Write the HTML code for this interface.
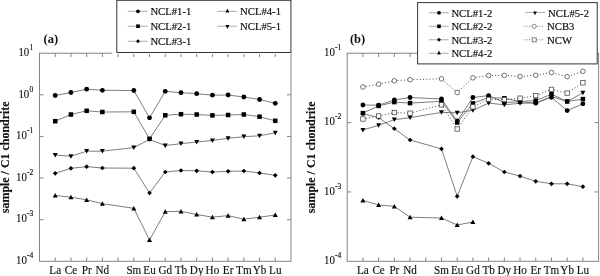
<!DOCTYPE html>
<html lang="en"><head><meta charset="utf-8"><title>REE patterns</title>
<style>
html,body{margin:0;padding:0;background:#fff;}
body{width:600px;height:276px;overflow:hidden;}
svg{display:block;}
text{font-family:"Liberation Serif","Times New Roman",serif;fill:#111;}
.xl{font-size:12px;text-anchor:middle;stroke:#111;stroke-width:0.15px;}
.yl{font-size:12px;text-anchor:end;stroke:#111;stroke-width:0.12px;}
.sup{font-size:7.2px;text-anchor:end;stroke:#111;stroke-width:0.15px;}
.lg{font-size:11px;stroke:#111;stroke-width:0.2px;}
.pl{font-size:13px;font-weight:bold;}
.yt{font-size:11.95px;font-weight:bold;text-anchor:middle;stroke:#111;stroke-width:0.15px;}
</style></head><body>
<svg width="600" height="276" viewBox="0 0 600 276">
<rect width="600" height="276" fill="#fff"/>
<g stroke="#858585" stroke-width="1" fill="none" shape-rendering="auto">
<rect x="39.50" y="53.20" width="251.50" height="208.10"/>
<path d="M55.22 53.20v3.8M55.22 261.30v-3.8M70.94 53.20v3.8M70.94 261.30v-3.8M86.66 53.20v3.8M86.66 261.30v-3.8M102.38 53.20v3.8M102.38 261.30v-3.8M118.09 53.20v3.8M118.09 261.30v-3.8M133.81 53.20v3.8M133.81 261.30v-3.8M149.53 53.20v3.8M149.53 261.30v-3.8M165.25 53.20v3.8M165.25 261.30v-3.8M180.97 53.20v3.8M180.97 261.30v-3.8M196.69 53.20v3.8M196.69 261.30v-3.8M212.41 53.20v3.8M212.41 261.30v-3.8M228.12 53.20v3.8M228.12 261.30v-3.8M243.84 53.20v3.8M243.84 261.30v-3.8M259.56 53.20v3.8M259.56 261.30v-3.8M275.28 53.20v3.8M275.28 261.30v-3.8M39.50 94.82h4M291.00 94.82h-4M39.50 136.44h4M291.00 136.44h-4M39.50 178.06h4M291.00 178.06h-4M39.50 219.68h4M291.00 219.68h-4"/>
</g>
<g stroke="#858585" stroke-width="1" fill="none" shape-rendering="auto">
<rect x="347.20" y="53.20" width="251.40" height="208.10"/>
<path d="M362.91 53.20v3.8M362.91 261.30v-3.8M378.62 53.20v3.8M378.62 261.30v-3.8M394.34 53.20v3.8M394.34 261.30v-3.8M410.05 53.20v3.8M410.05 261.30v-3.8M425.76 53.20v3.8M425.76 261.30v-3.8M441.48 53.20v3.8M441.48 261.30v-3.8M457.19 53.20v3.8M457.19 261.30v-3.8M472.90 53.20v3.8M472.90 261.30v-3.8M488.61 53.20v3.8M488.61 261.30v-3.8M504.33 53.20v3.8M504.33 261.30v-3.8M520.04 53.20v3.8M520.04 261.30v-3.8M535.75 53.20v3.8M535.75 261.30v-3.8M551.46 53.20v3.8M551.46 261.30v-3.8M567.17 53.20v3.8M567.17 261.30v-3.8M582.89 53.20v3.8M582.89 261.30v-3.8M347.20 122.57h4M598.60 122.57h-4M347.20 191.93h4M598.60 191.93h-4"/>
</g>
<path d="M55.22 155.00L70.94 156.30L86.66 151.20L102.38 151.20L133.81 147.60L149.53 139.50L165.25 145.50L180.97 143.70L196.69 142.00L212.41 140.50L228.12 138.30L243.84 136.70L259.56 135.80L275.28 132.80" fill="none" stroke="#6e6e6e" stroke-width="0.9"/>
<path d="M55.22 157.40l2.5 -4.5h-5.0z" fill="#000"/>
<path d="M70.94 158.70l2.5 -4.5h-5.0z" fill="#000"/>
<path d="M86.66 153.60l2.5 -4.5h-5.0z" fill="#000"/>
<path d="M102.38 153.60l2.5 -4.5h-5.0z" fill="#000"/>
<path d="M133.81 150.00l2.5 -4.5h-5.0z" fill="#000"/>
<path d="M149.53 141.90l2.5 -4.5h-5.0z" fill="#000"/>
<path d="M165.25 147.90l2.5 -4.5h-5.0z" fill="#000"/>
<path d="M180.97 146.10l2.5 -4.5h-5.0z" fill="#000"/>
<path d="M196.69 144.40l2.5 -4.5h-5.0z" fill="#000"/>
<path d="M212.41 142.90l2.5 -4.5h-5.0z" fill="#000"/>
<path d="M228.12 140.70l2.5 -4.5h-5.0z" fill="#000"/>
<path d="M243.84 139.10l2.5 -4.5h-5.0z" fill="#000"/>
<path d="M259.56 138.20l2.5 -4.5h-5.0z" fill="#000"/>
<path d="M275.28 135.20l2.5 -4.5h-5.0z" fill="#000"/>
<path d="M55.22 195.50L70.94 197.20L86.66 199.80L102.38 203.70L133.81 208.30L149.53 240.00L165.25 211.70L180.97 211.30L196.69 214.50L212.41 217.20L228.12 215.60L243.84 219.20L259.56 217.20L275.28 215.00" fill="none" stroke="#6e6e6e" stroke-width="0.9"/>
<path d="M55.22 193.10l2.5 4.5h-5.0z" fill="#000"/>
<path d="M70.94 194.80l2.5 4.5h-5.0z" fill="#000"/>
<path d="M86.66 197.40l2.5 4.5h-5.0z" fill="#000"/>
<path d="M102.38 201.30l2.5 4.5h-5.0z" fill="#000"/>
<path d="M133.81 205.90l2.5 4.5h-5.0z" fill="#000"/>
<path d="M149.53 237.60l2.5 4.5h-5.0z" fill="#000"/>
<path d="M165.25 209.30l2.5 4.5h-5.0z" fill="#000"/>
<path d="M180.97 208.90l2.5 4.5h-5.0z" fill="#000"/>
<path d="M196.69 212.10l2.5 4.5h-5.0z" fill="#000"/>
<path d="M212.41 214.80l2.5 4.5h-5.0z" fill="#000"/>
<path d="M228.12 213.20l2.5 4.5h-5.0z" fill="#000"/>
<path d="M243.84 216.80l2.5 4.5h-5.0z" fill="#000"/>
<path d="M259.56 214.80l2.5 4.5h-5.0z" fill="#000"/>
<path d="M275.28 212.60l2.5 4.5h-5.0z" fill="#000"/>
<path d="M55.22 173.30L70.94 168.30L86.66 166.70L102.38 168.00L133.81 168.20L149.53 193.00L165.25 172.00L180.97 170.50L196.69 170.80L212.41 172.00L228.12 171.30L243.84 171.00L259.56 173.00L275.28 175.30" fill="none" stroke="#6e6e6e" stroke-width="0.9"/>
<path d="M55.22 170.95l2.35 2.35l-2.35 2.35l-2.35 -2.35z" fill="#000"/>
<path d="M70.94 165.95l2.35 2.35l-2.35 2.35l-2.35 -2.35z" fill="#000"/>
<path d="M86.66 164.35l2.35 2.35l-2.35 2.35l-2.35 -2.35z" fill="#000"/>
<path d="M102.38 165.65l2.35 2.35l-2.35 2.35l-2.35 -2.35z" fill="#000"/>
<path d="M133.81 165.85l2.35 2.35l-2.35 2.35l-2.35 -2.35z" fill="#000"/>
<path d="M149.53 190.65l2.35 2.35l-2.35 2.35l-2.35 -2.35z" fill="#000"/>
<path d="M165.25 169.65l2.35 2.35l-2.35 2.35l-2.35 -2.35z" fill="#000"/>
<path d="M180.97 168.15l2.35 2.35l-2.35 2.35l-2.35 -2.35z" fill="#000"/>
<path d="M196.69 168.45l2.35 2.35l-2.35 2.35l-2.35 -2.35z" fill="#000"/>
<path d="M212.41 169.65l2.35 2.35l-2.35 2.35l-2.35 -2.35z" fill="#000"/>
<path d="M228.12 168.95l2.35 2.35l-2.35 2.35l-2.35 -2.35z" fill="#000"/>
<path d="M243.84 168.65l2.35 2.35l-2.35 2.35l-2.35 -2.35z" fill="#000"/>
<path d="M259.56 170.65l2.35 2.35l-2.35 2.35l-2.35 -2.35z" fill="#000"/>
<path d="M275.28 172.95l2.35 2.35l-2.35 2.35l-2.35 -2.35z" fill="#000"/>
<path d="M55.22 121.20L70.94 114.50L86.66 110.80L102.38 112.00L133.81 111.80L149.53 138.80L165.25 115.30L180.97 114.20L196.69 114.50L212.41 115.40L228.12 115.00L243.84 114.50L259.56 116.70L275.28 120.80" fill="none" stroke="#6e6e6e" stroke-width="0.9"/>
<rect x="52.97" y="118.95" width="4.5" height="4.5" fill="#000"/>
<rect x="68.69" y="112.25" width="4.5" height="4.5" fill="#000"/>
<rect x="84.41" y="108.55" width="4.5" height="4.5" fill="#000"/>
<rect x="100.12" y="109.75" width="4.5" height="4.5" fill="#000"/>
<rect x="131.56" y="109.55" width="4.5" height="4.5" fill="#000"/>
<rect x="147.28" y="136.55" width="4.5" height="4.5" fill="#000"/>
<rect x="163.00" y="113.05" width="4.5" height="4.5" fill="#000"/>
<rect x="178.72" y="111.95" width="4.5" height="4.5" fill="#000"/>
<rect x="194.44" y="112.25" width="4.5" height="4.5" fill="#000"/>
<rect x="210.16" y="113.15" width="4.5" height="4.5" fill="#000"/>
<rect x="225.88" y="112.75" width="4.5" height="4.5" fill="#000"/>
<rect x="241.59" y="112.25" width="4.5" height="4.5" fill="#000"/>
<rect x="257.31" y="114.45" width="4.5" height="4.5" fill="#000"/>
<rect x="273.03" y="118.55" width="4.5" height="4.5" fill="#000"/>
<path d="M55.22 95.50L70.94 92.50L86.66 89.20L102.38 90.30L133.81 90.50L149.53 117.80L165.25 91.30L180.97 92.70L196.69 93.70L212.41 95.20L228.12 95.00L243.84 97.00L259.56 99.50L275.28 103.30" fill="none" stroke="#6e6e6e" stroke-width="0.9"/>
<circle cx="55.22" cy="95.50" r="2.4" fill="#000"/>
<circle cx="70.94" cy="92.50" r="2.4" fill="#000"/>
<circle cx="86.66" cy="89.20" r="2.4" fill="#000"/>
<circle cx="102.38" cy="90.30" r="2.4" fill="#000"/>
<circle cx="133.81" cy="90.50" r="2.4" fill="#000"/>
<circle cx="149.53" cy="117.80" r="2.4" fill="#000"/>
<circle cx="165.25" cy="91.30" r="2.4" fill="#000"/>
<circle cx="180.97" cy="92.70" r="2.4" fill="#000"/>
<circle cx="196.69" cy="93.70" r="2.4" fill="#000"/>
<circle cx="212.41" cy="95.20" r="2.4" fill="#000"/>
<circle cx="228.12" cy="95.00" r="2.4" fill="#000"/>
<circle cx="243.84" cy="97.00" r="2.4" fill="#000"/>
<circle cx="259.56" cy="99.50" r="2.4" fill="#000"/>
<circle cx="275.28" cy="103.30" r="2.4" fill="#000"/>
<path d="M362.91 200.30L378.62 205.00L394.34 206.30L410.05 217.20L441.48 218.00L457.19 225.00L472.90 222.00" fill="none" stroke="#6e6e6e" stroke-width="0.9"/>
<path d="M362.91 197.90l2.5 4.5h-5.0z" fill="#000"/>
<path d="M378.62 202.60l2.5 4.5h-5.0z" fill="#000"/>
<path d="M394.34 203.90l2.5 4.5h-5.0z" fill="#000"/>
<path d="M410.05 214.80l2.5 4.5h-5.0z" fill="#000"/>
<path d="M441.48 215.60l2.5 4.5h-5.0z" fill="#000"/>
<path d="M457.19 222.60l2.5 4.5h-5.0z" fill="#000"/>
<path d="M472.90 219.60l2.5 4.5h-5.0z" fill="#000"/>
<path d="M362.91 113.60L378.62 117.60L394.34 128.70L410.05 140.00L441.48 148.90L457.19 196.30L472.90 156.70L488.61 163.30L504.33 172.00L520.04 176.10L535.75 181.30L551.46 183.80L567.17 183.80L582.89 186.70" fill="none" stroke="#6e6e6e" stroke-width="0.9"/>
<path d="M362.91 111.25l2.35 2.35l-2.35 2.35l-2.35 -2.35z" fill="#000"/>
<path d="M378.62 115.25l2.35 2.35l-2.35 2.35l-2.35 -2.35z" fill="#000"/>
<path d="M394.34 126.35l2.35 2.35l-2.35 2.35l-2.35 -2.35z" fill="#000"/>
<path d="M410.05 137.65l2.35 2.35l-2.35 2.35l-2.35 -2.35z" fill="#000"/>
<path d="M441.48 146.55l2.35 2.35l-2.35 2.35l-2.35 -2.35z" fill="#000"/>
<path d="M457.19 193.95l2.35 2.35l-2.35 2.35l-2.35 -2.35z" fill="#000"/>
<path d="M472.90 154.35l2.35 2.35l-2.35 2.35l-2.35 -2.35z" fill="#000"/>
<path d="M488.61 160.95l2.35 2.35l-2.35 2.35l-2.35 -2.35z" fill="#000"/>
<path d="M504.33 169.65l2.35 2.35l-2.35 2.35l-2.35 -2.35z" fill="#000"/>
<path d="M520.04 173.75l2.35 2.35l-2.35 2.35l-2.35 -2.35z" fill="#000"/>
<path d="M535.75 178.95l2.35 2.35l-2.35 2.35l-2.35 -2.35z" fill="#000"/>
<path d="M551.46 181.45l2.35 2.35l-2.35 2.35l-2.35 -2.35z" fill="#000"/>
<path d="M567.17 181.45l2.35 2.35l-2.35 2.35l-2.35 -2.35z" fill="#000"/>
<path d="M582.89 184.35l2.35 2.35l-2.35 2.35l-2.35 -2.35z" fill="#000"/>
<path d="M362.91 130.00L378.62 125.30L394.34 119.70L410.05 117.60L441.48 112.40L457.19 112.75L472.90 110.30L488.61 103.10L504.33 104.80L520.04 103.30L535.75 103.00L551.46 96.50L567.17 101.50L582.89 92.90" fill="none" stroke="#6e6e6e" stroke-width="0.9"/>
<path d="M362.91 132.40l2.5 -4.5h-5.0z" fill="#000"/>
<path d="M378.62 127.70l2.5 -4.5h-5.0z" fill="#000"/>
<path d="M394.34 122.10l2.5 -4.5h-5.0z" fill="#000"/>
<path d="M410.05 120.00l2.5 -4.5h-5.0z" fill="#000"/>
<path d="M441.48 114.80l2.5 -4.5h-5.0z" fill="#000"/>
<path d="M457.19 115.15l2.5 -4.5h-5.0z" fill="#000"/>
<path d="M472.90 112.70l2.5 -4.5h-5.0z" fill="#000"/>
<path d="M488.61 105.50l2.5 -4.5h-5.0z" fill="#000"/>
<path d="M504.33 107.20l2.5 -4.5h-5.0z" fill="#000"/>
<path d="M520.04 105.70l2.5 -4.5h-5.0z" fill="#000"/>
<path d="M535.75 105.40l2.5 -4.5h-5.0z" fill="#000"/>
<path d="M551.46 98.90l2.5 -4.5h-5.0z" fill="#000"/>
<path d="M567.17 103.90l2.5 -4.5h-5.0z" fill="#000"/>
<path d="M582.89 95.30l2.5 -4.5h-5.0z" fill="#000"/>
<path d="M362.91 105.00L378.62 105.20L394.34 100.00L410.05 97.50L441.48 99.00L457.19 121.00L472.90 97.50L488.61 95.60L504.33 102.60L520.04 101.60L535.75 103.20L551.46 97.30L567.17 110.60L582.89 103.80" fill="none" stroke="#6e6e6e" stroke-width="0.9"/>
<circle cx="362.91" cy="105.00" r="2.4" fill="#000"/>
<circle cx="378.62" cy="105.20" r="2.4" fill="#000"/>
<circle cx="394.34" cy="100.00" r="2.4" fill="#000"/>
<circle cx="410.05" cy="97.50" r="2.4" fill="#000"/>
<circle cx="441.48" cy="99.00" r="2.4" fill="#000"/>
<circle cx="457.19" cy="121.00" r="2.4" fill="#000"/>
<circle cx="472.90" cy="97.50" r="2.4" fill="#000"/>
<circle cx="488.61" cy="95.60" r="2.4" fill="#000"/>
<circle cx="504.33" cy="102.60" r="2.4" fill="#000"/>
<circle cx="520.04" cy="101.60" r="2.4" fill="#000"/>
<circle cx="535.75" cy="103.20" r="2.4" fill="#000"/>
<circle cx="551.46" cy="97.30" r="2.4" fill="#000"/>
<circle cx="567.17" cy="110.60" r="2.4" fill="#000"/>
<circle cx="582.89" cy="103.80" r="2.4" fill="#000"/>
<path d="M362.91 113.10L378.62 105.90L394.34 102.10L410.05 103.10L441.48 101.30L457.19 122.50L472.90 103.40L488.61 97.50L504.33 98.30L520.04 101.50L535.75 100.60L551.46 94.20L567.17 101.50L582.89 99.10" fill="none" stroke="#6e6e6e" stroke-width="0.9"/>
<rect x="360.66" y="110.85" width="4.5" height="4.5" fill="#000"/>
<rect x="376.38" y="103.65" width="4.5" height="4.5" fill="#000"/>
<rect x="392.09" y="99.85" width="4.5" height="4.5" fill="#000"/>
<rect x="407.80" y="100.85" width="4.5" height="4.5" fill="#000"/>
<rect x="439.23" y="99.05" width="4.5" height="4.5" fill="#000"/>
<rect x="454.94" y="120.25" width="4.5" height="4.5" fill="#000"/>
<rect x="470.65" y="101.15" width="4.5" height="4.5" fill="#000"/>
<rect x="486.36" y="95.25" width="4.5" height="4.5" fill="#000"/>
<rect x="502.08" y="96.05" width="4.5" height="4.5" fill="#000"/>
<rect x="517.79" y="99.25" width="4.5" height="4.5" fill="#000"/>
<rect x="533.50" y="98.35" width="4.5" height="4.5" fill="#000"/>
<rect x="549.21" y="91.95" width="4.5" height="4.5" fill="#000"/>
<rect x="564.92" y="99.25" width="4.5" height="4.5" fill="#000"/>
<rect x="580.64" y="96.85" width="4.5" height="4.5" fill="#000"/>
<path d="M362.91 87.00L378.62 84.20L394.34 80.80L410.05 79.70L441.48 78.80L457.19 92.50L472.90 77.80L488.61 75.50L504.33 75.40L520.04 76.50L535.75 75.30L551.46 72.50L567.17 76.70L582.89 71.30" fill="none" stroke="#444" stroke-width="1" stroke-dasharray="1 2.2"/>
<circle cx="362.91" cy="87.00" r="2.3" fill="#fff" stroke="#444" stroke-width="0.75"/>
<circle cx="378.62" cy="84.20" r="2.3" fill="#fff" stroke="#444" stroke-width="0.75"/>
<circle cx="394.34" cy="80.80" r="2.3" fill="#fff" stroke="#444" stroke-width="0.75"/>
<circle cx="410.05" cy="79.70" r="2.3" fill="#fff" stroke="#444" stroke-width="0.75"/>
<circle cx="441.48" cy="78.80" r="2.3" fill="#fff" stroke="#444" stroke-width="0.75"/>
<circle cx="457.19" cy="92.50" r="2.3" fill="#fff" stroke="#444" stroke-width="0.75"/>
<circle cx="472.90" cy="77.80" r="2.3" fill="#fff" stroke="#444" stroke-width="0.75"/>
<circle cx="488.61" cy="75.50" r="2.3" fill="#fff" stroke="#444" stroke-width="0.75"/>
<circle cx="504.33" cy="75.40" r="2.3" fill="#fff" stroke="#444" stroke-width="0.75"/>
<circle cx="520.04" cy="76.50" r="2.3" fill="#fff" stroke="#444" stroke-width="0.75"/>
<circle cx="535.75" cy="75.30" r="2.3" fill="#fff" stroke="#444" stroke-width="0.75"/>
<circle cx="551.46" cy="72.50" r="2.3" fill="#fff" stroke="#444" stroke-width="0.75"/>
<circle cx="567.17" cy="76.70" r="2.3" fill="#fff" stroke="#444" stroke-width="0.75"/>
<circle cx="582.89" cy="71.30" r="2.3" fill="#fff" stroke="#444" stroke-width="0.75"/>
<path d="M362.91 119.00L378.62 116.00L394.34 112.50L410.05 113.20L441.48 104.80L457.19 129.00L472.90 106.90L488.61 99.40L504.33 99.60L520.04 98.20L535.75 95.60L551.46 89.40L567.17 93.10L582.89 82.80" fill="none" stroke="#444" stroke-width="1" stroke-dasharray="1 2.2"/>
<rect x="360.71" y="116.80" width="4.4" height="4.4" fill="#fff" stroke="#444" stroke-width="0.75"/>
<rect x="376.43" y="113.80" width="4.4" height="4.4" fill="#fff" stroke="#444" stroke-width="0.75"/>
<rect x="392.14" y="110.30" width="4.4" height="4.4" fill="#fff" stroke="#444" stroke-width="0.75"/>
<rect x="407.85" y="111.00" width="4.4" height="4.4" fill="#fff" stroke="#444" stroke-width="0.75"/>
<rect x="439.28" y="102.60" width="4.4" height="4.4" fill="#fff" stroke="#444" stroke-width="0.75"/>
<rect x="454.99" y="126.80" width="4.4" height="4.4" fill="#fff" stroke="#444" stroke-width="0.75"/>
<rect x="470.70" y="104.70" width="4.4" height="4.4" fill="#fff" stroke="#444" stroke-width="0.75"/>
<rect x="486.41" y="97.20" width="4.4" height="4.4" fill="#fff" stroke="#444" stroke-width="0.75"/>
<rect x="502.13" y="97.40" width="4.4" height="4.4" fill="#fff" stroke="#444" stroke-width="0.75"/>
<rect x="517.84" y="96.00" width="4.4" height="4.4" fill="#fff" stroke="#444" stroke-width="0.75"/>
<rect x="533.55" y="93.40" width="4.4" height="4.4" fill="#fff" stroke="#444" stroke-width="0.75"/>
<rect x="549.26" y="87.20" width="4.4" height="4.4" fill="#fff" stroke="#444" stroke-width="0.75"/>
<rect x="564.97" y="90.90" width="4.4" height="4.4" fill="#fff" stroke="#444" stroke-width="0.75"/>
<rect x="580.69" y="80.60" width="4.4" height="4.4" fill="#fff" stroke="#444" stroke-width="0.75"/>
<rect x="111.9" y="-3" width="179" height="57" fill="#fff"/>
<rect x="116.8" y="0.3" width="174.1" height="52.2" fill="#fff" stroke="#333" stroke-width="1"/>
<path d="M127.8 11.3H147.6" stroke="#aaa" stroke-width="1"/>
<circle cx="138.00" cy="11.30" r="1.9" fill="#000"/>
<text transform="translate(150.40 15.40) scale(0.97 1)" class="lg">NCL#1-1</text>
<path d="M127.8 26.2H147.6" stroke="#aaa" stroke-width="1"/>
<rect x="136.20" y="24.40" width="3.6" height="3.6" fill="#000"/>
<text transform="translate(150.40 30.30) scale(0.97 1)" class="lg">NCL#2-1</text>
<path d="M127.8 41.3H147.6" stroke="#aaa" stroke-width="1"/>
<path d="M138.00 39.30l2.0 2.0l-2.0 2.0l-2.0 -2.0z" fill="#000"/>
<text transform="translate(150.40 45.40) scale(0.97 1)" class="lg">NCL#3-1</text>
<path d="M217.2 11.3H237" stroke="#aaa" stroke-width="1"/>
<path d="M227.40 8.60l1.9 3.8h-3.8z" fill="#000"/>
<text transform="translate(240.10 15.40) scale(0.97 1)" class="lg">NCL#4-1</text>
<path d="M217.2 26.2H237" stroke="#aaa" stroke-width="1"/>
<path d="M227.40 28.90l1.9 -3.8h-3.8z" fill="#000"/>
<text transform="translate(240.10 30.30) scale(0.97 1)" class="lg">NCL#5-1</text>
<rect x="417.6" y="2.6" width="179.6" height="61.3" fill="#fff" stroke="#333" stroke-width="1"/>
<path d="M428.8 12.8H448.6" stroke="#aaa" stroke-width="1"/>
<circle cx="439.00" cy="12.80" r="1.9" fill="#000"/>
<text transform="translate(451.40 16.90) scale(0.97 1)" class="lg">NCL#1-2</text>
<path d="M428.8 26.3H448.6" stroke="#aaa" stroke-width="1"/>
<rect x="437.20" y="24.50" width="3.6" height="3.6" fill="#000"/>
<text transform="translate(451.40 30.40) scale(0.97 1)" class="lg">NCL#2-2</text>
<path d="M428.8 39.8H448.6" stroke="#aaa" stroke-width="1"/>
<path d="M439.00 37.80l2.0 2.0l-2.0 2.0l-2.0 -2.0z" fill="#000"/>
<text transform="translate(451.40 43.90) scale(0.97 1)" class="lg">NCL#3-2</text>
<path d="M428.8 53.3H448.6" stroke="#aaa" stroke-width="1"/>
<path d="M439.00 50.60l1.9 3.8h-3.8z" fill="#000"/>
<text transform="translate(451.40 57.40) scale(0.97 1)" class="lg">NCL#4-2</text>
<path d="M525 12.5H545" stroke="#b0b0b0" stroke-width="1"/>
<path d="M535.00 15.20l1.9 -3.8h-3.8z" fill="#000"/>
<text transform="translate(548.10 16.60) scale(0.97 1)" class="lg">NCL#5-2</text>
<path d="M523.8 26.3H544.2" stroke="#777" stroke-width="1" stroke-dasharray="1 1.6"/>
<circle cx="534.20" cy="26.30" r="2.1" fill="#fff" stroke="#777" stroke-width="0.9"/>
<text transform="translate(547.10 30.40) scale(0.97 1)" class="lg">NCB3</text>
<path d="M523.8 39.8H544.2" stroke="#777" stroke-width="1" stroke-dasharray="1 1.6"/>
<rect x="532.20" y="37.80" width="4.0" height="4.0" fill="#fff" stroke="#777" stroke-width="0.9"/>
<text transform="translate(547.10 43.90) scale(0.97 1)" class="lg">NCW</text>
<text transform="translate(55.22 273.60) scale(0.93 1)" class="xl">La</text>
<text transform="translate(70.94 273.60) scale(0.93 1)" class="xl">Ce</text>
<text transform="translate(86.66 273.60) scale(0.93 1)" class="xl">Pr</text>
<text transform="translate(102.38 273.60) scale(0.93 1)" class="xl">Nd</text>
<text transform="translate(133.81 273.60) scale(0.93 1)" class="xl">Sm</text>
<text transform="translate(149.53 273.60) scale(0.93 1)" class="xl">Eu</text>
<text transform="translate(165.25 273.60) scale(0.93 1)" class="xl">Gd</text>
<text transform="translate(180.97 273.60) scale(0.93 1)" class="xl">Tb</text>
<text transform="translate(196.69 273.60) scale(0.93 1)" class="xl">Dy</text>
<text transform="translate(212.41 273.60) scale(0.93 1)" class="xl">Ho</text>
<text transform="translate(228.12 273.60) scale(0.93 1)" class="xl">Er</text>
<text transform="translate(243.84 273.60) scale(0.93 1)" class="xl">Tm</text>
<text transform="translate(259.56 273.60) scale(0.93 1)" class="xl">Yb</text>
<text transform="translate(275.28 273.60) scale(0.93 1)" class="xl">Lu</text>
<text transform="translate(362.91 273.60) scale(0.93 1)" class="xl">La</text>
<text transform="translate(378.62 273.60) scale(0.93 1)" class="xl">Ce</text>
<text transform="translate(394.34 273.60) scale(0.93 1)" class="xl">Pr</text>
<text transform="translate(410.05 273.60) scale(0.93 1)" class="xl">Nd</text>
<text transform="translate(441.48 273.60) scale(0.93 1)" class="xl">Sm</text>
<text transform="translate(457.19 273.60) scale(0.93 1)" class="xl">Eu</text>
<text transform="translate(472.90 273.60) scale(0.93 1)" class="xl">Gd</text>
<text transform="translate(488.61 273.60) scale(0.93 1)" class="xl">Tb</text>
<text transform="translate(504.33 273.60) scale(0.93 1)" class="xl">Dy</text>
<text transform="translate(520.04 273.60) scale(0.93 1)" class="xl">Ho</text>
<text transform="translate(535.75 273.60) scale(0.93 1)" class="xl">Er</text>
<text transform="translate(551.46 273.60) scale(0.93 1)" class="xl">Tm</text>
<text transform="translate(567.17 273.60) scale(0.93 1)" class="xl">Yb</text>
<text transform="translate(582.89 273.60) scale(0.93 1)" class="xl">Lu</text>
<text transform="translate(33.30 50.00) scale(1.05 1)" class="sup">1</text>
<text transform="translate(29.32 55.90) scale(0.91 1)" class="yl">10</text>
<text transform="translate(33.30 91.62) scale(1.05 1)" class="sup">0</text>
<text transform="translate(29.32 97.52) scale(0.91 1)" class="yl">10</text>
<text transform="translate(33.30 133.24) scale(1.05 1)" class="sup">-1</text>
<text transform="translate(26.88 139.14) scale(0.91 1)" class="yl">10</text>
<text transform="translate(33.30 174.86) scale(1.05 1)" class="sup">-2</text>
<text transform="translate(26.88 180.76) scale(0.91 1)" class="yl">10</text>
<text transform="translate(33.30 216.48) scale(1.05 1)" class="sup">-3</text>
<text transform="translate(26.88 222.38) scale(0.91 1)" class="yl">10</text>
<text transform="translate(33.30 258.10) scale(1.05 1)" class="sup">-4</text>
<text transform="translate(26.88 264.00) scale(0.91 1)" class="yl">10</text>
<text transform="translate(341.30 50.00) scale(1.05 1)" class="sup">-1</text>
<text transform="translate(334.88 55.90) scale(0.91 1)" class="yl">10</text>
<text transform="translate(341.30 119.37) scale(1.05 1)" class="sup">-2</text>
<text transform="translate(334.88 125.27) scale(0.91 1)" class="yl">10</text>
<text transform="translate(341.30 188.73) scale(1.05 1)" class="sup">-3</text>
<text transform="translate(334.88 194.63) scale(0.91 1)" class="yl">10</text>
<text transform="translate(341.30 258.10) scale(1.05 1)" class="sup">-4</text>
<text transform="translate(334.88 264.00) scale(0.91 1)" class="yl">10</text>
<text transform="translate(43.50 42.80) scale(0.96 1)" class="pl">(a)</text>
<text transform="translate(349.90 42.80) scale(0.96 1)" class="pl">(b)</text>
<text transform="translate(8.7 157.3) rotate(-90) scale(1 1.12)" class="yt">sample / C1 chondrite</text>
<text transform="translate(314.9 157.3) rotate(-90) scale(1 1.12)" class="yt">sample / C1 chondrite</text>
</svg>
</body></html>
